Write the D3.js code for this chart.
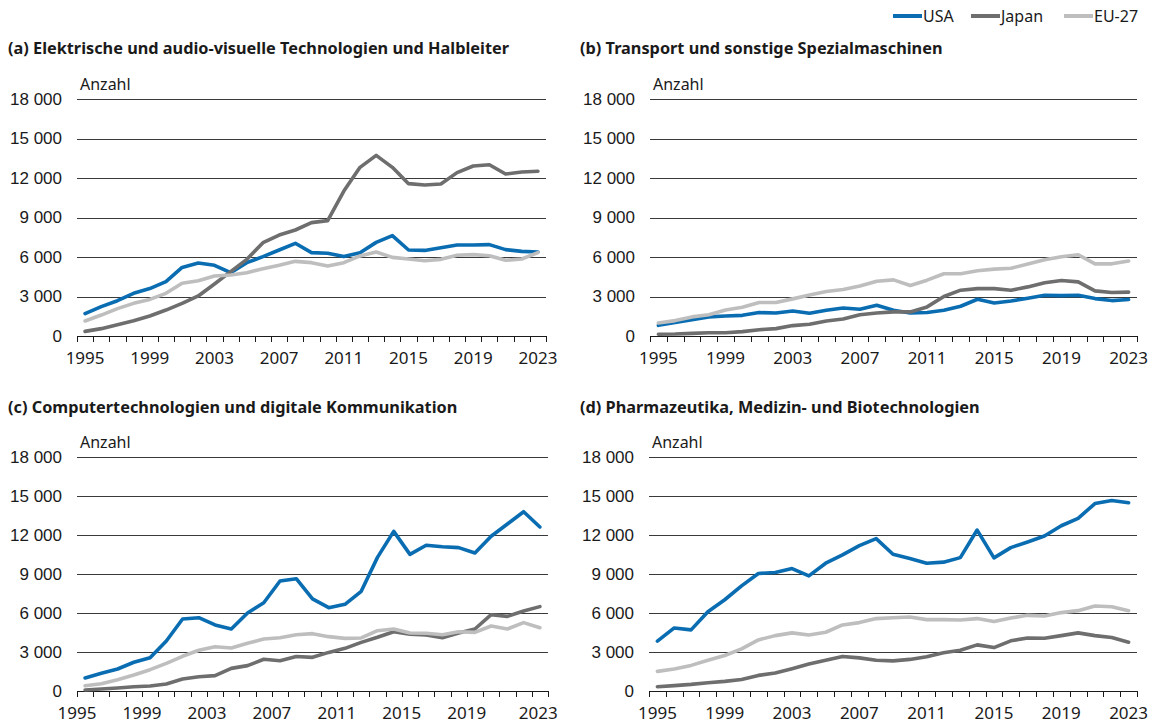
<!DOCTYPE html>
<html>
<head>
<meta charset="utf-8">
<script src="https://cdn.jsdelivr.net/npm/d3@7"></script>
<style>
  body { margin: 0; background: #fff; }
  svg { font-family: "Noto Sans", sans-serif; }
</style>
</head>
<body>
<script>
// years on the x axis
const years = [1995, 1996, 1997, 1998, 1999, 2000, 2001, 2002, 2003, 2004, 2005, 2006, 2007, 2008, 2009,
               2010, 2011, 2012, 2013, 2014, 2015, 2016, 2017, 2018, 2019, 2020, 2021, 2022, 2023];
const tickYears = [1995, 1999, 2003, 2007, 2011, 2015, 2019, 2023];
const yTicks = [0, 3000, 6000, 9000, 12000, 15000, 18000];
const seriesNames = ["USA", "Japan", "EU-27"];
const seriesColors = ["#0a6db2", "#6e6e6e", "#bebebe"];

const titles = [
  "(a) Elektrische und audio-visuelle Technologien und Halbleiter",
  "(b) Transport und sonstige Spezialmaschinen",
  "(c) Computertechnologien und digitale Kommunikation",
  "(d) Pharmazeutika, Medizin- und Biotechnologien"
];

// (a) Elektrik / Halbleiter
const usaA = [1700, 2230, 2680, 3240, 3600, 4130, 5210, 5540, 5370, 4810, 5570, 6030, 6530, 7040, 6330,
              6280, 6030, 6330, 7110, 7620, 6530, 6500, 6710, 6910, 6910, 6940, 6560, 6430, 6380];
const japanA = [350, 560, 860, 1160, 1520, 1970, 2480, 3040, 3950, 4890, 5820, 7090, 7670, 8050, 8610,
                8760, 11010, 12810, 13720, 12810, 11570, 11470, 11540, 12410, 12910, 13010, 12300, 12460, 12510];
const euA = [1140, 1590, 2080, 2480, 2780, 3240, 4000, 4200, 4560, 4630, 4810, 5110, 5370, 5670, 5570,
             5320, 5570, 6080, 6380, 5970, 5850, 5720, 5820, 6130, 6180, 6100, 5750, 5850, 6330];

// (b) Transport / Spezialmaschinen
const usaB = [810, 1020, 1240, 1450, 1520, 1570, 1780, 1750, 1900, 1730, 1950, 2130, 2030, 2340, 1950,
              1750, 1780, 1950, 2260, 2790, 2510, 2660, 2870, 3100, 3070, 3100, 2840, 2690, 2770];
const japanB = [130, 150, 200, 250, 250, 330, 480, 560, 790, 890, 1140, 1290, 1620, 1750, 1830,
                1830, 2210, 3000, 3480, 3600, 3600, 3480, 3730, 4040, 4210, 4110, 3430, 3300, 3330];
const euB = [990, 1170, 1450, 1620, 1980, 2180, 2540, 2540, 2820, 3120, 3380, 3530, 3790, 4160, 4260,
             3830, 4240, 4730, 4730, 4950, 5080, 5150, 5460, 5790, 6020, 6170, 5480, 5480, 5690];

// (c) Computer / digitale Kommunikation
const usaC = [1000, 1360, 1690, 2210, 2560, 3850, 5540, 5640, 5080, 4770, 6000, 6790, 8460, 8640, 7080,
              6410, 6670, 7670, 10280, 12280, 10510, 11210, 11100, 11030, 10620, 11900, 12850, 13790, 12620];
const japanC = [80, 150, 230, 330, 380, 540, 920, 1100, 1180, 1740, 1950, 2440, 2330, 2650, 2590,
                2970, 3280, 3740, 4130, 4560, 4360, 4310, 4100, 4460, 4770, 5870, 5740, 6150, 6490];
const euC = [410, 560, 870, 1230, 1640, 2130, 2670, 3130, 3410, 3310, 3670, 4000, 4100, 4330, 4410,
             4180, 4050, 4080, 4640, 4770, 4460, 4440, 4330, 4560, 4510, 5000, 4770, 5260, 4870];

// (d) Pharma / Medizin / Biotech
const usaD = [3830, 4850, 4700, 6100, 7020, 8090, 9040, 9110, 9420, 8860, 9830, 10470, 11180, 11720, 10520,
              10190, 9830, 9910, 10260, 12380, 10240, 11030, 11460, 11920, 12710, 13280, 14420, 14650, 14480];
const japanD = [330, 410, 510, 640, 740, 890, 1200, 1380, 1710, 2070, 2370, 2660, 2550, 2370, 2320,
                2430, 2630, 2940, 3140, 3550, 3340, 3860, 4080, 4060, 4260, 4470, 4260, 4110, 3750];
const euD = [1510, 1690, 1970, 2370, 2730, 3240, 3930, 4260, 4470, 4310, 4520, 5080, 5260, 5570, 5640,
             5690, 5490, 5490, 5460, 5570, 5340, 5620, 5820, 5770, 6030, 6180, 6540, 6480, 6180];

const width = 1158, height = 724;

const svg = d3.select("body").append("svg")
    .attr("width", width)
    .attr("height", height);

const de = d3.formatLocale({ decimal: ",", thousands: " ", grouping: [3], currency: ["", " €"] });
const fmt = de.format(",d");

// panel boxes; panel (c) has its year labels sitting on the tick marks, not the band centres
const panels = [
  { title: titles[0], series: [usaA, japanA, euA], x0: 77, x1: 546, y0: 336, y1: 99, tx: 8, ty: 54, labelShift: 0, lastShift: 0 },
  { title: titles[1], series: [usaB, japanB, euB], x0: 650, x1: 1137, y0: 336, y1: 99, tx: 580, ty: 54, labelShift: 0, lastShift: 0 },
  { title: titles[2], series: [usaC, japanC, euC], x0: 77, x1: 548, y0: 691, y1: 457, tx: 8, ty: 413, labelShift: -0.5, lastShift: -0.1 },
  { title: titles[3], series: [usaD, japanD, euD], x0: 649, x1: 1137, y0: 691, y1: 457, tx: 580, ty: 413, labelShift: 0, lastShift: 0 }
];

panels.forEach(function (p) {
  const g = svg.append("g");

  const x = d3.scaleBand().domain(years).range([p.x0, p.x1]);
  const y = d3.scaleLinear().domain([0, 18000]).range([p.y0, p.y1]);

  // title
  g.append("text")
      .attr("x", p.tx)
      .attr("y", p.ty)
      .attr("font-size", 16.3)
      .attr("font-weight", "bold")
      .attr("fill", "#1a1a1a")
      .text(p.title);

  // unit
  g.append("text")
      .attr("x", p.x0 + 3)
      .attr("y", p.y1 - 9)
      .attr("font-size", 16)
      .attr("fill", "#1a1a1a")
      .text("Anzahl");

  // gridlines + y labels
  const yAxis = d3.axisLeft(y).tickValues(yTicks).tickSize(0).tickPadding(15).tickFormat(fmt);
  const ya = g.append("g").attr("transform", `translate(${p.x0},0)`).call(yAxis);
  ya.select(".domain").remove();
  ya.selectAll("text").attr("font-size", 17).attr("fill", "#1a1a1a").attr("font-family", null);

  g.append("g").selectAll("line")
    .data(yTicks.filter(d => d > 0))
    .join("line")
      .attr("x1", p.x0).attr("x2", p.x1)
      .attr("y1", d => Math.round(y(d)) + 0.5)
      .attr("y2", d => Math.round(y(d)) + 0.5)
      .attr("stroke", "#3a3a3a")
      .attr("stroke-width", 1);

  // x axis line with ticks on band edges
  const edges = years.map(d => x(d)).concat([p.x1]);
  g.append("line")
      .attr("x1", p.x0).attr("x2", p.x1)
      .attr("y1", Math.round(p.y0) + 0.5).attr("y2", Math.round(p.y0) + 0.5)
      .attr("stroke", "#1a1a1a");
  g.append("g").selectAll("line")
    .data(edges)
    .join("line")
      .attr("x1", d => Math.round(d) + 0.5).attr("x2", d => Math.round(d) + 0.5)
      .attr("y1", p.y0).attr("y2", p.y0 + 6)
      .attr("stroke", "#1a1a1a");

  g.append("g").selectAll("text")
    .data(tickYears)
    .join("text")
      .attr("x", d => x(d) + x.bandwidth() * (0.5 + (d === 2023 ? p.lastShift : p.labelShift)))
      .attr("y", p.y0 + 28)
      .attr("text-anchor", "middle")
      .attr("font-size", 17)
      .attr("fill", "#1a1a1a")
      .text(d => d);

  // lines
  const line = d3.line()
      .x((d, i) => x(years[i]) + x.bandwidth() / 2)
      .y(d => y(d));

  p.series.forEach(function (s, k) {
    g.append("path")
        .datum(s)
        .attr("fill", "none")
        .attr("stroke", seriesColors[k])
        .attr("stroke-width", 3.6)
        .attr("stroke-linejoin", "round")
        .attr("stroke-linecap", "round")
        .attr("d", line);
  });
});

// legend
const legendX = [893, 971, 1064];
const legend = svg.append("g").selectAll("g")
  .data(seriesNames)
  .join("g")
    .attr("transform", (d, i) => `translate(${legendX[i]},16)`);
legend.append("line")
    .attr("x1", 0).attr("x2", 29)
    .attr("stroke", (d, i) => seriesColors[i])
    .attr("stroke-width", 4);
legend.append("text")
    .attr("x", 30)
    .attr("y", 6)
    .attr("font-size", 16)
    .attr("fill", "#1a1a1a")
    .text(d => d);
</script>
</body>
</html>
